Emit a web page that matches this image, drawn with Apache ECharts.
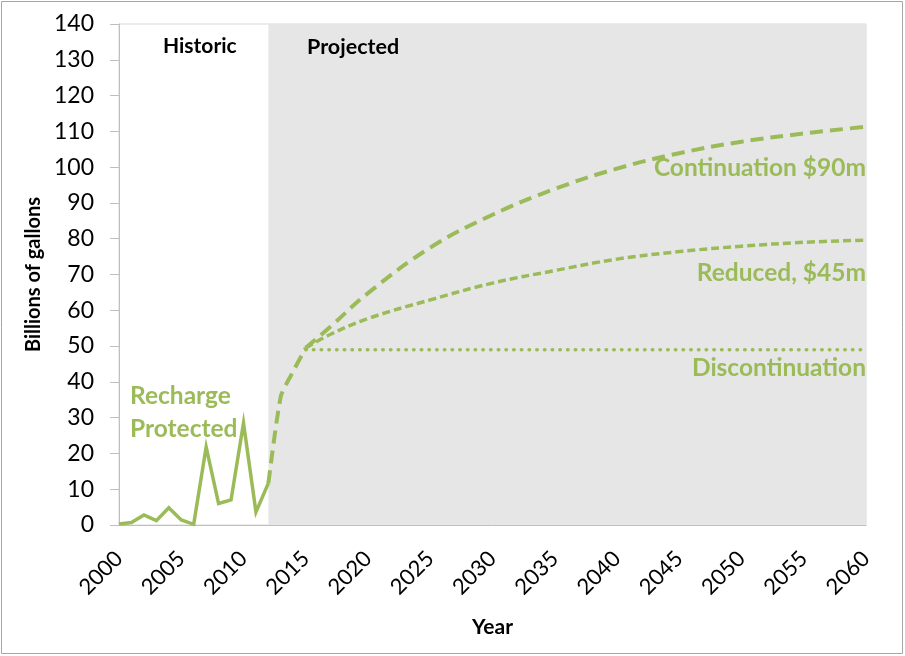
<!DOCTYPE html>
<html>
<head>
<meta charset="utf-8">
<style>
  html, body { margin: 0; padding: 0; background: #ffffff; }
  #chart { width: 905px; height: 656px; }
</style>
<script src="https://cdn.jsdelivr.net/npm/echarts@6/dist/echarts.min.js"></script>
</head>
<body>
<div id="chart"></div>
<script>
// Recharge protected, billions of gallons
const historicYears  = [2000, 2001, 2002, 2003, 2004, 2005, 2006, 2007, 2008, 2009, 2010, 2011, 2012];
const historicValues = [0.3, 0.7, 2.8, 1.2, 4.8, 1.4, 0.2, 21.8, 6.0, 7.0, 28.5, 3.6, 11.7];

// Ramp-up from the last measured year to the start of the scenarios
const rampYears  = [2012, 2013, 2014, 2015];
const rampValues = [11.7, 36.0, 43.0, 49.5];

// Scenario projections
const continuationYears  = [2015, 2017, 2020, 2025, 2030, 2035, 2040, 2045, 2050, 2055, 2060];
const continuationValues = [49.5, 55.5, 64.8, 77.5, 86.7, 93.9, 99.6, 103.9, 107.1, 109.4, 111.3];

const reducedYears  = [2015, 2017, 2020, 2025, 2030, 2035, 2040, 2045, 2050, 2055, 2060];
const reducedValues = [49.5, 53.3, 57.7, 62.9, 67.6, 71.1, 74.3, 76.4, 77.9, 79.0, 79.6];

const discontinuationYears  = [2015, 2060];
const discontinuationValues = [49.0, 49.0];

const projectedStart = 2012;
const yearMin = 2000, yearMax = 2060, yearStep = 5;
const valueMin = 0, valueMax = 140, valueStep = 10;

const GREEN = '#9BBB59';
const FONT = 'Lato, "Open Sans", sans-serif';

const pairs = (xs, ys) => xs.map((x, i) => [x, ys[i]]);

const chart = echarts.init(document.getElementById('chart'), null, { renderer: 'canvas' });

chart.setOption({
  animation: false,
  backgroundColor: '#ffffff',
  grid: { left: 119, right: 39, top: 24, bottom: 131, show: true, borderColor: '#d9d9d9', borderWidth: 1, backgroundColor: 'transparent' },
  xAxis: {
    type: 'value',
    min: yearMin, max: yearMax, interval: yearStep,
    name: 'Year', nameLocation: 'middle', nameGap: 92,
    nameTextStyle: { fontFamily: FONT, fontWeight: 'bold', fontSize: 21, color: '#000' },
    axisLine: { show: true, lineStyle: { color: '#bfbfbf', width: 1 } },
    axisTick: { show: false },
    splitLine: { show: false },
    axisLabel: { rotate: 45, fontFamily: FONT, fontSize: 22, color: '#000', margin: 30, formatter: v => String(v) }
  },
  yAxis: {
    type: 'value',
    min: valueMin, max: valueMax, interval: valueStep,
    name: 'Billions of gallons', nameLocation: 'middle', nameGap: 74,
    nameTextStyle: { fontFamily: FONT, fontWeight: 'bold', fontSize: 20, color: '#000' },
    axisLine: { show: true, lineStyle: { color: '#bfbfbf', width: 1 } },
    axisTick: { show: true, length: 9, lineStyle: { color: '#bfbfbf' } },
    splitLine: { show: false },
    axisLabel: { fontFamily: FONT, fontSize: 23, color: '#000', margin: 25 }
  },
  graphic: [
    { type: 'rect', shape: { x: 1.5, y: 1.5, width: 901, height: 652 }, style: { fill: 'none', stroke: '#a6a6a6', lineWidth: 1 }, silent: true, z: 100 },
    { type: 'text', z: 50, left: 163, top: 36, style: { text: 'Historic', font: 'bold 21px ' + FONT, fill: '#000' } },
    { type: 'text', z: 50, left: 307, top: 36, style: { text: 'Projected', font: 'bold 21.5px ' + FONT, fill: '#000' } },
    { type: 'text', z: 50, left: 130, top: 380, style: { text: 'Recharge\nProtected', font: 'bold 24.5px ' + FONT, fill: GREEN, lineHeight: 33 } },
    { type: 'text', z: 50, right: 39, top: 156, style: { text: 'Continuation $90m', font: 'bold 24.5px ' + FONT, fill: GREEN, align: 'right' } },
    { type: 'text', z: 50, right: 39, top: 261, style: { text: 'Reduced, $45m', font: 'bold 24.5px ' + FONT, fill: GREEN, align: 'right' } },
    { type: 'text', z: 50, right: 39, top: 356, style: { text: 'Discontinuation', font: 'bold 24.5px ' + FONT, fill: GREEN, align: 'right' } }
  ],
  series: [
    {
      name: 'Recharge Protected',
      type: 'line',
      data: pairs(historicYears, historicValues),
      symbol: 'none',
      lineStyle: { color: GREEN, width: 3.5, join: 'miter' },
      markArea: {
        silent: true,
        itemStyle: { color: '#e6e6e6' },
        data: [[{ xAxis: projectedStart, yAxis: valueMin }, { xAxis: yearMax, yAxis: valueMax }]]
      },
      z: 3
    },
    {
      name: 'Ramp',
      type: 'line',
      data: pairs(rampYears, rampValues),
      symbol: 'none',
      smooth: 0.2,
      lineStyle: { color: GREEN, width: 4, type: [13, 7] },
      z: 3
    },
    {
      name: 'Continuation $90m',
      type: 'line',
      data: pairs(continuationYears, continuationValues),
      symbol: 'none',
      smooth: 0.4,
      lineStyle: { color: GREEN, width: 4, type: [13, 7] },
      z: 3
    },
    {
      name: 'Reduced, $45m',
      type: 'line',
      data: pairs(reducedYears, reducedValues),
      symbol: 'none',
      smooth: 0.4,
      lineStyle: { color: GREEN, width: 3.5, type: [8, 4] },
      z: 3
    },
    {
      name: 'Discontinuation',
      type: 'line',
      data: pairs(discontinuationYears, discontinuationValues),
      symbol: 'none',
      lineStyle: { color: GREEN, width: 3.5, type: [0.5, 7.2], cap: 'round' },
      z: 3
    }
  ]
});
</script>
</body>
</html>
